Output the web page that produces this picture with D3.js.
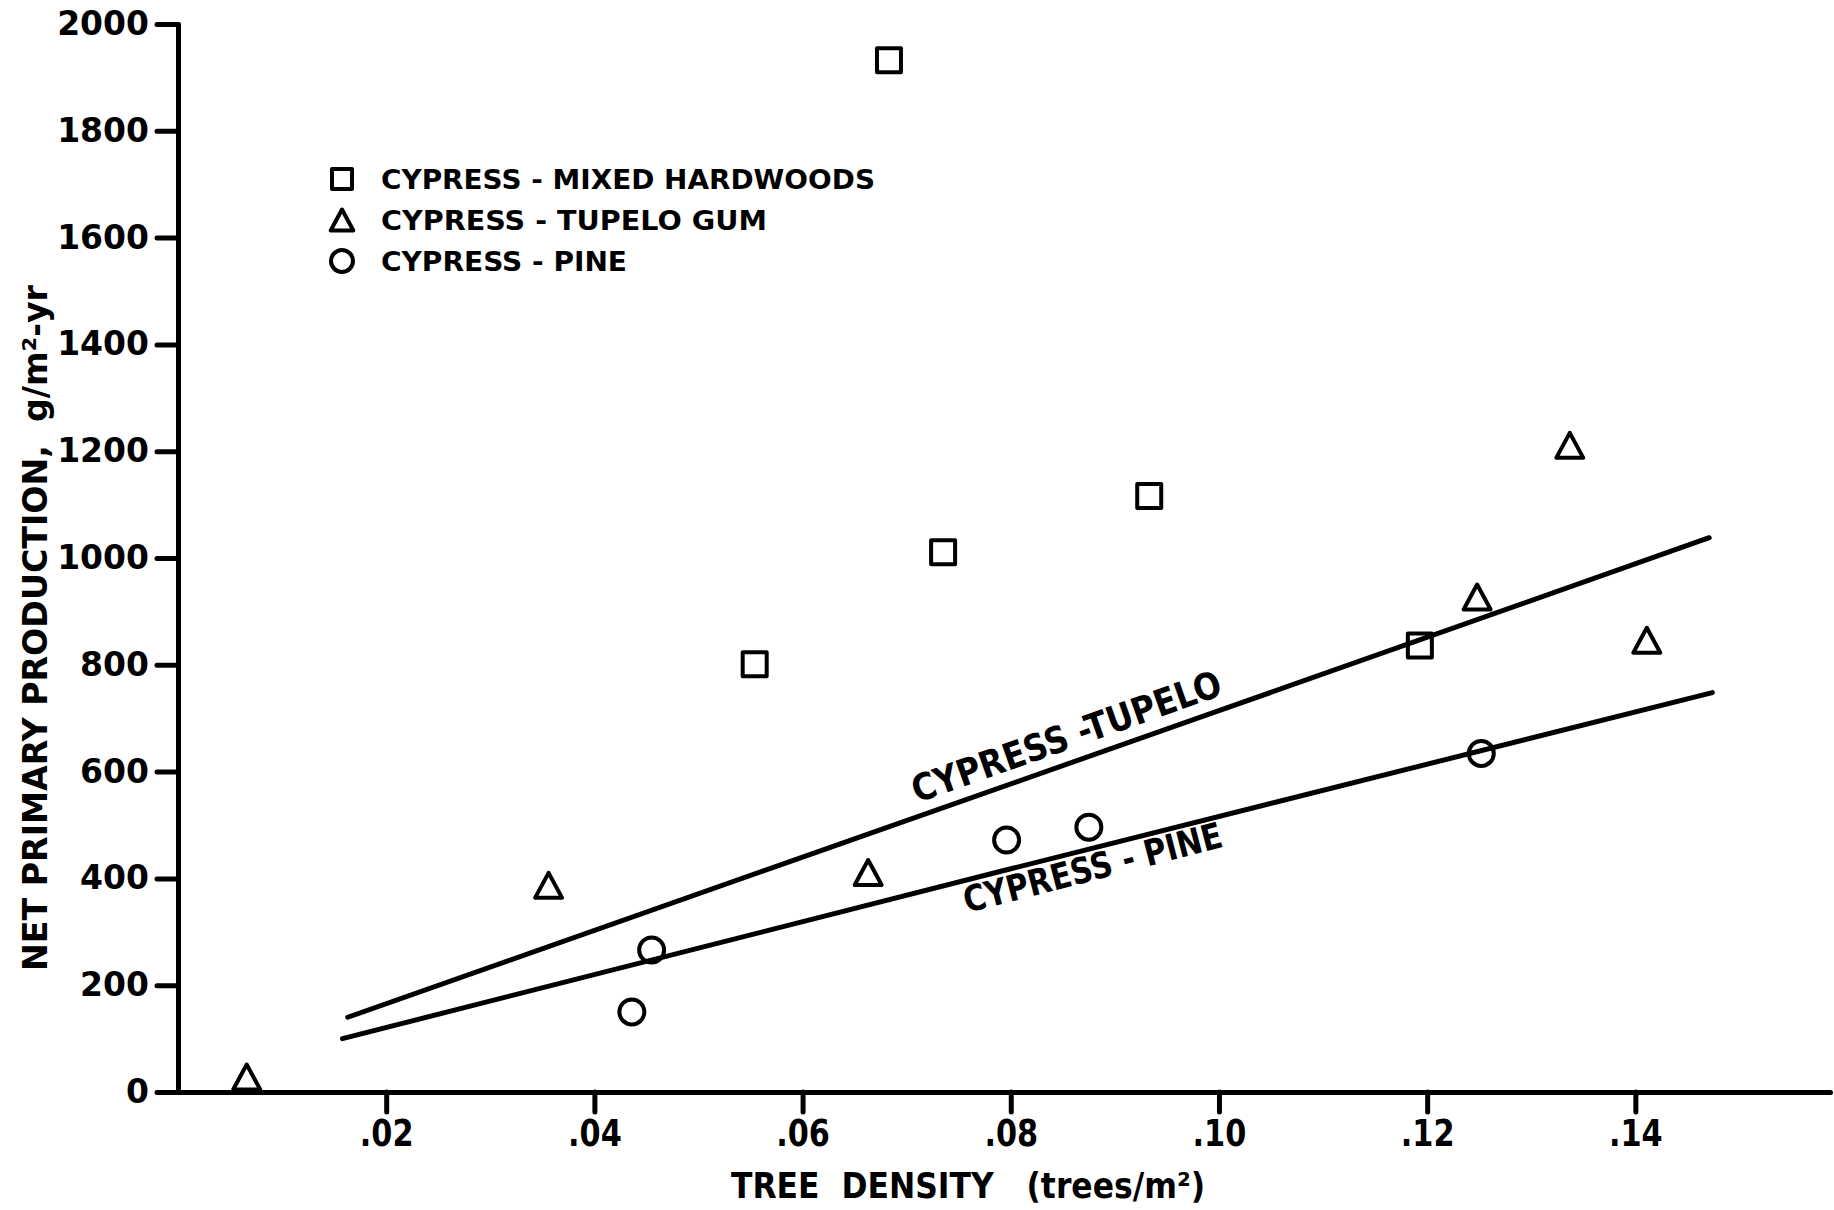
<html>
  <head>
    <title>Net primary production vs tree density</title>
    <script type="text/javascript" src="https://cdn.jsdelivr.net/npm/d3@7"></script>
    <style type="text/css">

body {
  margin: 0;
  background: #fff;
}

text {
  font-family: "DejaVu Sans", sans-serif;
  font-weight: bold;
  fill: #000;
}

.axis path, .axis line {
  stroke: #000;
  stroke-width: 5px;
  fill: none;
  stroke-linecap: round;
}

.fit {
  fill: none;
  stroke: #000;
  stroke-width: 5px;
  stroke-linecap: round;
}

.mark {
  fill: none;
  stroke: #000;
  stroke-width: 4px;
  stroke-linejoin: round;
}

    </style>
  </head>
  <body>
    <script type="text/javascript">

// cypress - mixed hardwoods (squares)
var hardwoodX = [0.0554, 0.0683, 0.0735, 0.0933, 0.1193],
    hardwoodY = [801, 1932, 1011, 1116, 836];

// cypress - tupelo gum (triangles)
var tupeloX = [0.0066, 0.0356, 0.0663, 0.1248, 0.1337, 0.1411],
    tupeloY = [28, 387, 411, 927, 1211, 846];

// cypress - pine (circles)
var pineX = [0.0436, 0.0455, 0.0796, 0.0875, 0.1252],
    pineY = [150, 266, 472, 496, 634];

// fitted lines
var tupeloFitX = [0.0163, 0.06, 0.10, 0.1471],
    tupeloFitY = [140, 440, 714, 1038];
var pineFitX = [0.0158, 0.08, 0.1474],
    pineFitY = [100, 418, 748];

var xTickValues = [0.02, 0.04, 0.06, 0.08, 0.10, 0.12, 0.14],
    xTickLabels = [".02", ".04", ".06", ".08", ".10", ".12", ".14"];
var yTickValues = [0, 200, 400, 600, 800, 1000, 1200, 1400, 1600, 1800, 2000],
    yTickLabels = ["0", "200", "400", "600", "800", "1000", "1200", "1400", "1600", "1800", "2000"];

var legendLabels = ["CYPRESS - MIXED HARDWOODS", "CYPRESS - TUPELO GUM", "CYPRESS - PINE"],
    legendShapes = ["square", "triangle", "circle"];

var w = 1834,
    h = 1210,
    x = d3.scaleLinear().domain([0, 0.1587]).range([178, 1830]),
    y = d3.scaleLinear().domain([0, 2000]).range([1092, 24]);

function shape(type, s) {
  var r = s / 2;
  if (type == "square") return "M" + -r + "," + -r + "h" + s + "v" + s + "h" + -s + "Z";
  if (type == "triangle") return "M0," + -r + "L" + (r * 1.08) + "," + r + "L" + (-r * 1.08) + "," + r + "Z";
  return "M" + r + ",0A" + r + "," + r + " 0 1,1 " + -r + ",0A" + r + "," + r + " 0 1,1 " + r + ",0Z";
}

var svg = d3.select("body")
  .append("svg")
    .attr("width", w)
    .attr("height", h);

// axes
var yAxis = svg.append("g")
    .attr("class", "axis")
    .attr("transform", "translate(" + x(0) + ",0)")
    .call(d3.axisLeft(y)
      .tickValues(yTickValues)
      .tickFormat(function(d, i) { return yTickLabels[i]; })
      .tickSize(21)
      .tickSizeOuter(0)
      .tickPadding(8));

yAxis.selectAll("text")
    .style("font-size", "33px");

var xAxis = svg.append("g")
    .attr("class", "axis")
    .attr("transform", "translate(0," + y(0) + ")")
    .call(d3.axisBottom(x)
      .tickValues(xTickValues)
      .tickFormat(function(d, i) { return xTickLabels[i]; })
      .tickSize(20)
      .tickSizeOuter(0)
      .tickPadding(8));

xAxis.selectAll("text")
    .style("font-size", "37px")
    .attr("transform", "scale(0.82,1)");

// axis titles
svg.append("text")
    .attr("transform", "translate(47,628) rotate(-90)")
    .attr("text-anchor", "middle")
    .attr("textLength", 686)
    .attr("lengthAdjust", "spacingAndGlyphs")
    .style("font-size", "34px")
    .text("NET PRIMARY PRODUCTION,\u00a0\u00a0g/m\u00b2-yr");

svg.append("text")
    .attr("x", 968)
    .attr("y", 1198)
    .attr("text-anchor", "middle")
    .attr("textLength", 474)
    .attr("lengthAdjust", "spacingAndGlyphs")
    .style("font-size", "35px")
    .text("TREE\u00a0\u00a0DENSITY\u00a0\u00a0\u00a0(trees/m\u00b2)");

// fitted lines
var line = d3.line()
    .x(function(d) { return x(d[0]); })
    .y(function(d) { return y(d[1]); });

svg.append("path")
    .attr("class", "fit")
    .attr("d", line(d3.zip(tupeloFitX, tupeloFitY)));

svg.append("path")
    .attr("class", "fit")
    .attr("d", line(d3.zip(pineFitX, pineFitY)));

svg.append("text")
    .attr("transform", "translate(" + x(0.0710) + "," + y(541) + ") rotate(-19.5)")
    .attr("textLength", 326)
    .attr("lengthAdjust", "spacingAndGlyphs")
    .style("font-size", "37px")
    .text("CYPRESS -TUPELO");

svg.append("text")
    .attr("transform", "translate(" + x(0.0758) + "," + y(335) + ") rotate(-14.5)")
    .attr("textLength", 266)
    .attr("lengthAdjust", "spacingAndGlyphs")
    .style("font-size", "36px")
    .text("CYPRESS - PINE");

// points
function points(xs, ys, type, s) {
  svg.append("g").selectAll("path")
      .data(d3.zip(xs, ys))
    .enter().append("path")
      .attr("class", "mark")
      .attr("transform", function(d) { return "translate(" + x(d[0]) + "," + y(d[1]) + ")"; })
      .attr("d", shape(type, s));
}

points(hardwoodX, hardwoodY, "square", 24);
points(tupeloX, tupeloY, "triangle", 25);
points(pineX, pineY, "circle", 25);

// legend
var legendWidths = [494, 386, 246],
    legendSizes = [20, 21, 22];

var legend = svg.selectAll("g.legend")
    .data(legendLabels)
  .enter().append("g")
    .attr("class", "legend")
    .attr("transform", function(d, i) { return "translate(342," + (179 + i * 41) + ")"; });

legend.append("path")
    .attr("class", "mark")
    .attr("d", function(d, i) { return shape(legendShapes[i], legendSizes[i]); });

legend.append("text")
    .attr("x", 39)
    .attr("y", 10)
    .attr("textLength", function(d, i) { return legendWidths[i]; })
    .attr("lengthAdjust", "spacingAndGlyphs")
    .style("font-size", "26px")
    .text(function(d) { return d; });

    </script>
  </body>
</html>
